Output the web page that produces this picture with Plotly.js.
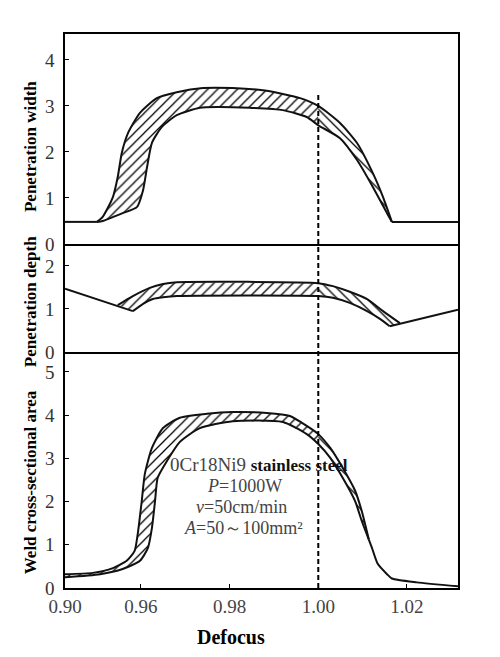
<!DOCTYPE html>
<html>
<head>
<meta charset="utf-8">
<script src="https://cdn.plot.ly/plotly-3.0.1.min.js"></script>
<style>html,body{margin:0;padding:0;background:#fff}#chart{width:500px;height:657px}</style>
</head>
<body>
<div id="chart"></div>
<script>
// ---- x axis (defocus) ----
const xTickVals = [0.9429, 0.96, 0.98, 1.00, 1.02];
const xTickText = ['0.90', '0.96', '0.98', '1.00', '1.02'];
const xRange = [0.9429, 1.0315];
const splitX = 1.00;

// ---- Penetration width ----
const widthUpperX = [0.9501, 0.9514, 0.9537, 0.9548, 0.9557, 0.9571, 0.9598, 0.9636, 0.9681, 0.9740, 0.9807, 0.9884, 0.9959, 1.0000, 1.0049, 1.0087, 1.0123, 1.0146, 1.0166];
const widthUpperY = [0.48, 0.59, 1.02, 1.46, 1.98, 2.41, 2.85, 3.17, 3.30, 3.39, 3.39, 3.33, 3.17, 3.00, 2.63, 2.20, 1.54, 1.02, 0.48];
const widthLowerX = [0.9501, 0.9514, 0.9559, 0.9591, 0.9605, 0.9614, 0.9625, 0.9647, 0.9681, 0.9733, 0.9771, 0.9846, 0.9920, 0.9974, 1.0000, 1.0049, 1.0087, 1.0123, 1.0155, 1.0166];
const widthLowerY = [0.48, 0.50, 0.67, 0.80, 1.17, 1.67, 2.20, 2.54, 2.80, 2.96, 2.98, 2.96, 2.91, 2.76, 2.58, 2.30, 1.83, 1.24, 0.67, 0.48];
const widthBaseLeftX = [0.9429, 0.9501];
const widthBaseLeftY = [0.48, 0.48];
const widthBaseRightX = [1.0166, 1.0315];
const widthBaseRightY = [0.48, 0.48];

// ---- Penetration depth ----
const depthUpperX = [0.9548, 0.9582, 0.9620, 0.9650, 0.9681, 1.0000, 1.0033, 1.0071, 1.0110, 1.0146, 1.0184];
const depthUpperY = [1.09, 1.30, 1.49, 1.58, 1.62, 1.60, 1.53, 1.40, 1.23, 0.95, 0.67];
const depthLowerX = [0.9582, 0.9605, 0.9627, 0.9650, 0.9681, 1.0000, 1.0033, 1.0071, 1.0110, 1.0139, 1.0161];
const depthLowerY = [0.95, 1.12, 1.23, 1.27, 1.30, 1.30, 1.26, 1.14, 0.95, 0.77, 0.60];
const depthLeftX = [0.9429, 0.9582];
const depthLeftY = [1.47, 0.95];
const depthRightX = [1.0161, 1.0315];
const depthRightY = [0.60, 0.98];

// ---- Weld cross-sectional area ----
const areaUpperX = [0.9429, 0.9492, 0.9537, 0.9568, 0.9586, 0.9593, 0.9602, 0.9609, 0.9625, 0.9650, 0.9688, 0.9749, 0.9807, 0.9884, 0.9936, 0.9974, 1.0000, 1.0027, 1.0055, 1.0083, 1.0098, 1.0114];
const areaUpperY = [0.32, 0.35, 0.46, 0.63, 0.86, 1.25, 2.01, 2.64, 3.24, 3.70, 3.94, 4.03, 4.07, 4.05, 3.98, 3.75, 3.56, 3.24, 2.78, 2.25, 1.78, 1.12];
const areaLowerX = [0.9429, 0.9508, 0.9559, 0.9598, 0.9616, 0.9625, 0.9632, 0.9638, 0.9659, 0.9688, 0.9733, 0.9807, 0.9920, 0.9974, 1.0000, 1.0027, 1.0055, 1.0083, 1.0098, 1.0114];
const areaLowerY = [0.25, 0.32, 0.44, 0.63, 0.93, 1.39, 2.01, 2.55, 2.94, 3.38, 3.70, 3.86, 3.84, 3.56, 3.33, 3.01, 2.55, 2.01, 1.55, 1.12];
const areaTailX = [1.0114, 1.0121, 1.0134, 1.0155, 1.0166, 1.0222, 1.0315];
const areaTailY = [1.12, 0.93, 0.56, 0.32, 0.22, 0.13, 0.04];

// ---- text ----
const yTitles = ['Penetration width', 'Penetration depth', 'Weld cross-sectional area'];
const xTitle = 'Defocus';
const noteLines = [
  '0Cr18Ni9 <span style="font-size:17px;color:#111"><b>stainless steel</b></span>',
  '<i>P</i>=1000W',
  '<i>v</i>=50cm/min',
  '<i>A</i>=50～100mm²'
];

function bandPolygon(ux, uy, lx, ly, lo, hi) {
  const px = [], py = [];
  for (let i = 0; i < ux.length; i++) if (ux[i] >= lo && ux[i] <= hi) { px.push(ux[i]); py.push(uy[i]); }
  for (let i = lx.length - 1; i >= 0; i--) if (lx[i] >= lo && lx[i] <= hi) { px.push(lx[i]); py.push(ly[i]); }
  if (px.length) { px.push(px[0]); py.push(py[0]); }
  return {x: px, y: py};
}

const serif = 'Liberation Serif, Times New Roman, serif';
const traces = [];
function hatch(poly, xa, ya, shape, size) {
  traces.push({x: poly.x, y: poly.y, xaxis: xa, yaxis: ya, type: 'scatter', mode: 'lines',
    fill: 'toself', fillcolor: 'white', line: {width: 0, color: 'rgba(0,0,0,0)'},
    fillpattern: {shape: shape, fgcolor: '#000', bgcolor: 'white', size: size, solidity: 0.18},
    hoverinfo: 'skip', showlegend: false});
}
function line(x, y, xa, ya) {
  traces.push({x: x, y: y, xaxis: xa, yaxis: ya, type: 'scatter', mode: 'lines',
    line: {color: '#111', width: 2, shape: 'spline', smoothing: 0.6}, hoverinfo: 'skip', showlegend: false});
}

// top panel: x3 / y3
hatch(bandPolygon(widthUpperX, widthUpperY, widthLowerX, widthLowerY, 0, splitX), 'x3', 'y3', '/', 7);
hatch(bandPolygon(widthUpperX, widthUpperY, widthLowerX, widthLowerY, splitX, 2), 'x3', 'y3', '\\', 7);
line(widthUpperX, widthUpperY, 'x3', 'y3');
line(widthLowerX, widthLowerY, 'x3', 'y3');
line(widthBaseLeftX, widthBaseLeftY, 'x3', 'y3');
line(widthBaseRightX, widthBaseRightY, 'x3', 'y3');

// middle panel: x2 / y2
hatch(bandPolygon(depthUpperX, depthUpperY, depthLowerX, depthLowerY, 0, splitX), 'x2', 'y2', '/', 7);
hatch(bandPolygon(depthUpperX, depthUpperY, depthLowerX, depthLowerY, splitX, 2), 'x2', 'y2', '\\', 7);
line(depthUpperX, depthUpperY, 'x2', 'y2');
line(depthLowerX, depthLowerY, 'x2', 'y2');
line(depthLeftX, depthLeftY, 'x2', 'y2');
line(depthRightX, depthRightY, 'x2', 'y2');

// bottom panel: x / y
hatch(bandPolygon(areaUpperX, areaUpperY, areaLowerX, areaLowerY, 0, splitX), 'x', 'y', '/', 7);
hatch(bandPolygon(areaUpperX, areaUpperY, areaLowerX, areaLowerY, splitX, 2), 'x', 'y', '\\', 7);
line(areaUpperX, areaUpperY, 'x', 'y');
line(areaLowerX, areaLowerY, 'x', 'y');
line(areaTailX, areaTailY, 'x', 'y');

const axisLine = {showline: true, linecolor: '#000', linewidth: 1.6, showgrid: false, zeroline: false};
const yTick = {ticks: 'inside', ticklen: 4, tickcolor: '#000', ticklabelstandoff: 5, mirror: true,
  tickfont: {family: serif, size: 19, color: '#333'}};

const noteFont = {family: serif, size: 18, color: '#444'};
const layout = {
  width: 500, height: 657,
  margin: {l: 65, r: 42, t: 34, b: 69},
  paper_bgcolor: '#fff', plot_bgcolor: '#fff',
  showlegend: false,
  xaxis: Object.assign({}, axisLine, {anchor: 'y', mirror: false, linewidth: 2, range: xRange, tickvals: xTickVals, ticktext: xTickText,
    ticks: 'inside', ticklen: 4, tickcolor: '#000', tickfont: {family: serif, size: 19, color: '#444'}}),
  xaxis2: Object.assign({}, axisLine, {anchor: 'y2', matches: 'x', mirror: false, showticklabels: false, ticks: ''}),
  xaxis3: Object.assign({}, axisLine, {anchor: 'y3', matches: 'x', mirror: true, showticklabels: false, ticks: ''}),
  yaxis: Object.assign({}, axisLine, yTick, {domain: [0, 0.426], range: [0, 5.46], tickvals: [0, 1, 2, 3, 4, 5]}),
  yaxis2: Object.assign({}, axisLine, yTick, {domain: [0.426, 0.621], range: [0, 2.51], tickvals: [0, 1, 2]}),
  yaxis3: Object.assign({}, axisLine, yTick, {domain: [0.621, 1], range: [0, 4.565], tickvals: [0, 1, 2, 3, 4]}),
  shapes: [{type: 'line', xref: 'x', yref: 'paper', x0: 1.0, x1: 1.0, y0: 0, y1: 0.892,
    line: {color: '#000', width: 2, dash: '5px,3px'}}],
  annotations: [
    {text: '<b>' + yTitles[0] + '</b>', xref: 'paper', yref: 'paper', x: -0.089, y: 0.796, xanchor: 'center', yanchor: 'middle', textangle: -90, showarrow: false, font: {family: serif, size: 17, color: '#000'}},
    {text: '<b>' + yTitles[1] + '</b>', xref: 'paper', yref: 'paper', x: -0.089, y: 0.516, xanchor: 'center', yanchor: 'middle', textangle: -90, showarrow: false, font: {family: serif, size: 17, color: '#000'}},
    {text: '<b>' + yTitles[2] + '</b>', xref: 'paper', yref: 'paper', x: -0.089, y: 0.191, xanchor: 'center', yanchor: 'middle', textangle: -90, showarrow: false, font: {family: serif, size: 17, color: '#000'}},
    {text: '<b>' + xTitle + '</b>', xref: 'paper', yref: 'paper', x: 0.422, y: -0.088, xanchor: 'center', yanchor: 'middle', showarrow: false, font: {family: serif, size: 20, color: '#000'}},
    {text: noteLines[0], xref: 'paper', yref: 'paper', x: 0.262, y: 0.2238, xanchor: 'left', yanchor: 'middle', showarrow: false, font: {family: serif, size: 19, color: '#444'}},
    {text: noteLines[1], xref: 'paper', yref: 'paper', x: 0.458, y: 0.1841, xanchor: 'center', yanchor: 'middle', showarrow: false, font: noteFont},
    {text: noteLines[2], xref: 'paper', yref: 'paper', x: 0.450, y: 0.1462, xanchor: 'center', yanchor: 'middle', showarrow: false, font: noteFont},
    {text: noteLines[3], xref: 'paper', yref: 'paper', x: 0.453, y: 0.1083, xanchor: 'center', yanchor: 'middle', showarrow: false, font: noteFont}
  ]
};

Plotly.newPlot('chart', traces, layout, {displayModeBar: false, staticPlot: true});
</script>
</body>
</html>
